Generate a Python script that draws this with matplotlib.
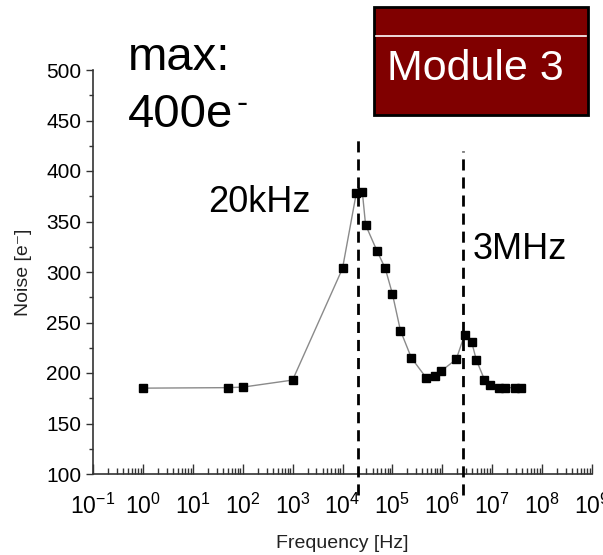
import matplotlib.pyplot as plt
from matplotlib import rcParams
from matplotlib.patches import Rectangle
from matplotlib.lines import Line2D
import numpy as np

rcParams['font.family'] = ['Liberation Sans', 'DejaVu Sans']
rcParams['mathtext.fontset'] = 'custom'
rcParams['mathtext.rm'] = 'Liberation Sans'
rcParams['mathtext.it'] = 'Liberation Sans:italic'
rcParams['mathtext.bf'] = 'Liberation Sans:bold'

# measured noise vs frequency
freq = [1, 50, 100, 1e3, 1e4, 1.9e4, 2.5e4, 2.9e4, 4.9e4, 7.2e4, 1e5, 1.45e5,
        2.4e5, 4.8e5, 7e5, 9.5e5, 1.9e6, 2.8e6, 3.9e6, 4.8e6, 7e6, 9e6,
        1.4e7, 1.8e7, 2.8e7, 3.7e7]
noise = [185, 185.5, 186, 193, 303.5, 378.6, 379, 346.7, 321, 303.5, 278.4, 242,
         215, 195, 197.3, 202, 213.5, 237.9, 230.3, 213, 193.4, 188,
         185.5, 185.5, 185.5, 185.5]

# marker lines and labels
vline_freq = [2.06e4, 2.56e6]
vline_top = [437, 420]
vline_labels = ['20kHz', '3MHz']

xtick_exp = list(range(-1, 10))
ytick_vals = list(range(100, 501, 50))

fig = plt.figure(figsize=(6.03, 5.55), dpi=100)
ax = fig.add_axes([93 / 603, 1 - 474 / 555, 499 / 603, 404 / 555])

ax.plot(freq, noise, '-', color='#8a8a8a', lw=1.0, marker='s', ms=6,
        mfc='black', mec='black', zorder=3)

ax.set_xscale('log')
ax.set_xlim(10 ** xtick_exp[0], 10 ** xtick_exp[-1])
ax.set_ylim(100, 500)

for f, top in zip(vline_freq, vline_top):
    ax.plot([f, f], [79, top], color='black', lw=2, ls=(0, (4, 2.5)),
            clip_on=False, zorder=4)

fig.text(208 / 603, 1 - 212 / 555, vline_labels[0], ha='left', va='baseline', fontsize=26)
fig.text(473 / 603, 1 - 259 / 555, vline_labels[1], ha='left', va='baseline', fontsize=26)

for s in ['top', 'right']:
    ax.spines[s].set_visible(False)
for s in ['left', 'bottom']:
    ax.spines[s].set_linewidth(1.2)
    ax.spines[s].set_color('#333333')

ax.set_xticks([10.0 ** e for e in xtick_exp])
ax.set_xticklabels([r'$10^{%d}$' % e for e in xtick_exp])
ax.xaxis.set_minor_locator(plt.matplotlib.ticker.LogLocator(base=10, subs=np.arange(2, 10), numticks=20))
ax.xaxis.set_minor_formatter(plt.NullFormatter())
ax.tick_params(axis='x', which='major', direction='in', length=7, width=1, labelsize=16.5, pad=14, color='#333333')
ax.tick_params(axis='x', which='minor', direction='in', length=4, width=1, color='#333333')

ax.set_yticks(ytick_vals)
ax.yaxis.set_minor_locator(plt.MultipleLocator(25))
ax.tick_params(axis='y', which='major', direction='out', length=5, width=1, labelsize=15, color='#333333')
ax.tick_params(axis='y', which='minor', direction='out', length=3, width=1, color='#333333')

ax.set_xlabel('Frequency [Hz]', fontsize=14, labelpad=12, color='#222222')
ax.set_ylabel('Noise [e\u207b]', fontsize=14, labelpad=10, color='#222222')

# big annotations
fig.text(128 / 603, 1 - 70 / 555, 'max:', fontsize=34, ha='left', va='baseline')
fig.text(128 / 603, 1 - 127 / 555, '400e', fontsize=34, ha='left', va='baseline')
fig.text(237 / 603, 1 - 113 / 555, '-', fontsize=24, ha='left', va='baseline')

# Module box
fig.patches.append(Rectangle((374 / 603, 1 - 115 / 555), 214 / 603, 108 / 555,
                             transform=fig.transFigure, facecolor='#800000',
                             edgecolor='black', lw=2))
fig.lines.append(Line2D([376 / 603, 586 / 603], [1 - 36 / 555, 1 - 36 / 555],
                        transform=fig.transFigure, color='white', lw=1.2))
fig.text(387 / 603, 1 - 80 / 555, 'Module 3', fontsize=31, color='white',
         ha='left', va='baseline')

fig.savefig('out.png', dpi=100)
